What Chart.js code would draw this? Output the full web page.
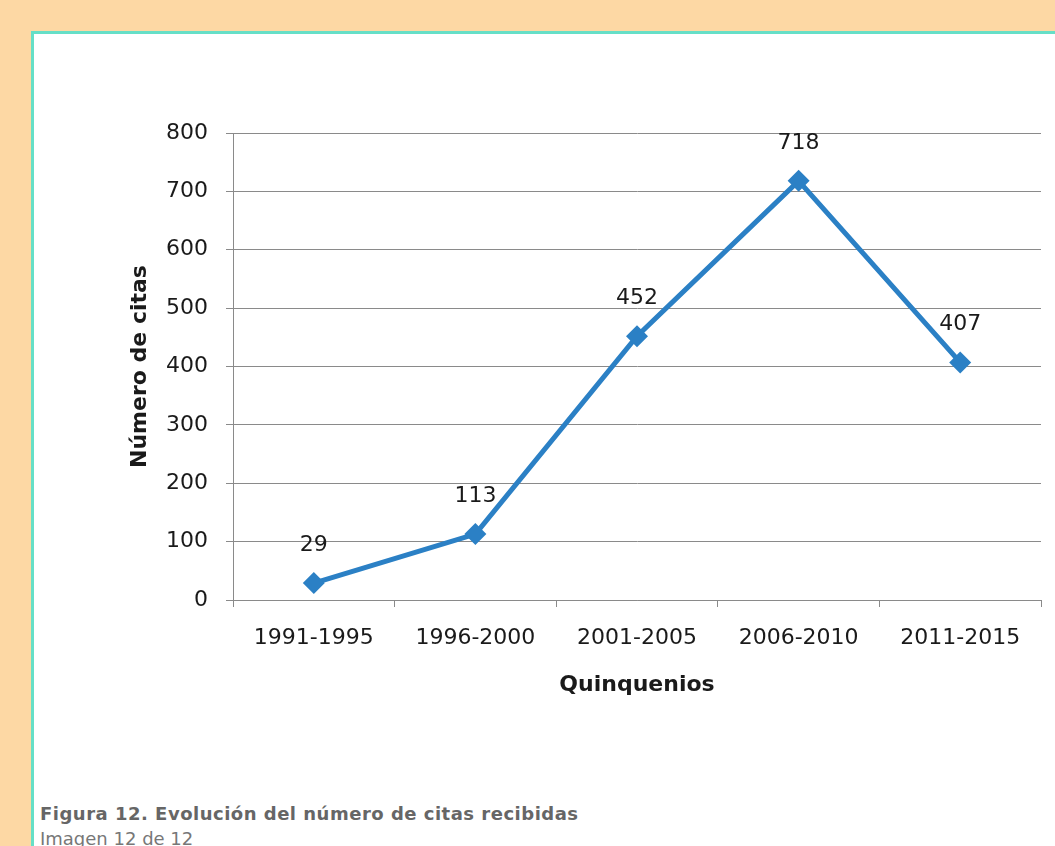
<!DOCTYPE html>
<html>
<head>
<meta charset="utf-8">
<script src="https://cdn.jsdelivr.net/npm/chart.js@4"></script>
<style>
  body { margin: 0; background: #fdd8a4; width: 1055px; height: 846px; overflow: hidden; position: relative; font-family: "DejaVu Sans", sans-serif; }
  #frame { position: absolute; left: 31px; top: 31px; width: 1100px; height: 900px; background: #fff; border-left: 3px solid #66dfc7; border-top: 3px solid #66dfc7; }
  #wrap { position: absolute; left: 34px; top: 34px; width: 1021px; height: 700px; }
  #caption { position: absolute; left: 40px; top: 805px; font-size: 18px; line-height: 18px; letter-spacing: 0.5px; font-weight: bold; color: #666; white-space: nowrap; }
  #sub { position: absolute; left: 40px; top: 830px; font-size: 18px; line-height: 18px; color: #777; white-space: nowrap; }
</style>
</head>
<body>
<div id="frame"></div>
<div id="wrap"><canvas id="chart"></canvas></div>
<div id="caption">Figura 12. Evolución del número de citas recibidas</div>
<div id="sub">Imagen 12 de 12</div>
<script>
const periods = ["1991-1995", "1996-2000", "2001-2005", "2006-2010", "2011-2015"];
const citas = [29, 113, 452, 718, 407];
const yTitle = "Número de citas";
const xTitle = "Quinquenios";

const lineColor = "#2b80c5";
const gridColor = "#8a8a8a";
const font = "'DejaVu Sans', Verdana, sans-serif";

// numbers above each point
const valueLabels = {
  id: "valueLabels",
  afterDatasetsDraw(chart) {
    const c = chart.ctx;
    const meta = chart.getDatasetMeta(0);
    c.save();
    c.font = "22px " + font;
    c.fillStyle = "#1a1a1a";
    c.textAlign = "center";
    c.textBaseline = "middle";
    meta.data.forEach((pt, i) => {
      c.fillText(String(citas[i]), pt.x, pt.y - 38);
    });
    c.restore();
  }
};

const ctx = document.getElementById("chart").getContext("2d");
new Chart(ctx, {
  type: "line",
  data: {
    labels: periods,
    datasets: [{
      data: citas,
      borderColor: lineColor,
      backgroundColor: lineColor,
      borderWidth: 5,
      pointStyle: "rectRot",
      pointRadius: 11,
      pointHoverRadius: 11,
      pointBorderWidth: 0,
      tension: 0
    }]
  },
  options: {
    responsive: true,
    maintainAspectRatio: false,
    animation: false,
    events: [],
    layout: { padding: { top: 99, right: 14, left: 0, bottom: 0 } },
    plugins: { legend: { display: false }, tooltip: { enabled: false } },
    scales: {
      x: {
        offset: true,
        grid: { offset: true, drawOnChartArea: false, drawTicks: true, tickLength: 7, color: gridColor },
        border: { color: gridColor },
        ticks: { color: "#1a1a1a", font: { family: font, size: 22 }, padding: 18, maxRotation: 0 },
        title: { display: true, text: xTitle, color: "#1a1a1a", font: { family: font, size: 22, weight: "bold" }, padding: { top: 0, bottom: 36 } },
        afterFit(scale) { scale.height = 134; }
      },
      y: {
        min: 0,
        max: 800,
        ticks: { stepSize: 100, color: "#1a1a1a", font: { family: font, size: 22 }, padding: 18 },
        grid: { color: gridColor, tickLength: 7 },
        border: { color: gridColor },
        title: { display: true, text: yTitle, color: "#1a1a1a", font: { family: font, size: 22, weight: "bold" }, padding: { top: 93, bottom: 0 } },
        afterFit(scale) { scale.width = 199; }
      }
    }
  },
  plugins: [valueLabels]
});
</script>
</body>
</html>
